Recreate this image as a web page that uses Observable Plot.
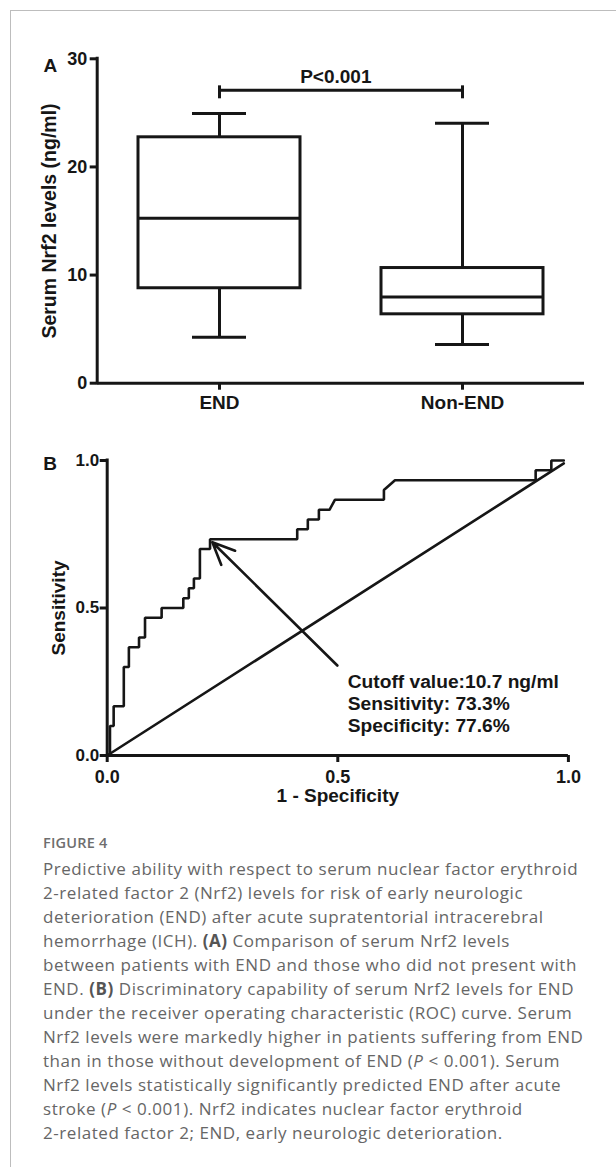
<!DOCTYPE html>
<html>
<head>
<meta charset="utf-8">
<script src="https://cdn.jsdelivr.net/npm/d3@7"></script>
<script src="https://cdn.jsdelivr.net/npm/@observablehq/plot@0.6"></script>
<style>
  html, body { margin: 0; padding: 0; background: #fff; }
  body { width: 616px; height: 1167px; position: relative; overflow: hidden; }
  #frame { position: absolute; left: 10px; top: 10px; width: 620px; height: 1170px;
           border-left: 1px solid #bdbdbd; border-top: 1px solid #bdbdbd; }
  #panelA { position: absolute; left: 0; top: 0; }
  #panelB { position: absolute; left: 0; top: 420px; }
  #figlabel { position: absolute; left: 43px; top: 833px; font-family: "Open Sans", sans-serif;
              font-weight: 600; font-size: 14.5px; line-height: 20px; color: #6e6e6e; letter-spacing: 0.2px; }
  #caption { position: absolute; left: 43px; top: 857px; font-family: "Open Sans", sans-serif;
             font-size: 17px; line-height: 24px; color: #666; white-space: nowrap; letter-spacing: 0.55px; }
  #caption b { font-weight: 700; color: #555; }
</style>
</head>
<body>
<div id="frame"></div>
<div id="panelA"></div>
<div id="panelB"></div>
<div id="figlabel">FIGURE 4</div>
<div id="caption"></div>
<script>
// ---------- Panel A data (box plot, ng/ml) ----------
const groups = ["END", "Non-END"];
const whiskerLow = [4.26, 3.58];
const quartile1 = [8.78, 6.37];
const medianVal = [15.26, 7.97];
const quartile3 = [22.74, 10.65];
const whiskerHigh = [24.93, 24.05];
const yTicksA = [0, 10, 20, 30];
const yTitleA = "Serum Nrf2 levels (ng/ml)";
const pLabel = "P<0.001";
const bracketLevel = [27.1];
const bracketTickSpan = [26.3, 27.5];

// ---------- Panel B data (ROC curve) ----------
const rocFpr = [0, 0.006, 0.006, 0.014, 0.014, 0.036, 0.036, 0.047, 0.047, 0.069, 0.069,
  0.082, 0.082, 0.118, 0.118, 0.165, 0.165, 0.177, 0.177, 0.188, 0.188, 0.201, 0.201,
  0.223, 0.223, 0.412, 0.412, 0.435, 0.435, 0.459, 0.459, 0.482, 0.494, 0.600, 0.600,
  0.624, 0.929, 0.929, 0.963, 0.963, 0.99];
const rocTpr = [0, 0, 0.1, 0.1, 0.167, 0.167, 0.3, 0.3, 0.367, 0.367, 0.4,
  0.4, 0.467, 0.467, 0.5, 0.5, 0.533, 0.533, 0.567, 0.567, 0.6, 0.6, 0.7,
  0.7, 0.733, 0.733, 0.767, 0.767, 0.8, 0.8, 0.833, 0.833, 0.867, 0.867, 0.9,
  0.933, 0.933, 0.967, 0.967, 1.0, 1.0];
const refX = [0, 0.99];
const refY = [0, 0.99];
const ticksB = [0, 0.5, 1];
const xTitleB = "1 - Specificity";
const yTitleB = "Sensitivity";
const arrowFrom = [0.499, 0.305];
const arrowTo = [0.228, 0.723];
const annotationLines = ["Cutoff value:10.7 ng/ml", "Sensitivity: 73.3%", "Specificity: 77.6%"];
const annotationAt = [0.5215, 0.178];

// ---------- Caption ----------
const captionLines = [
  "Predictive ability with respect to serum nuclear factor erythroid",
  "2-related factor 2 (Nrf2) levels for risk of early neurologic",
  "deterioration (END) after acute supratentorial intracerebral",
  "hemorrhage (ICH). <b>(A)</b> Comparison of serum Nrf2 levels",
  "between patients with END and those who did not present with",
  "END. <b>(B)</b> Discriminatory capability of serum Nrf2 levels for END",
  "under the receiver operating characteristic (ROC) curve. Serum",
  "Nrf2 levels were markedly higher in patients suffering from END",
  "than in those without development of END (<i>P</i> &lt; 0.001). Serum",
  "Nrf2 levels statistically significantly predicted END after acute",
  "stroke (<i>P</i> &lt; 0.001). Nrf2 indicates nuclear factor erythroid",
  "2-related factor 2; END, early neurologic deterioration."
];

const ink = "#161616";
const font = "'Liberation Sans', Arial, Helvetica, sans-serif";

const boxData = groups.map((g, i) => ({
  group: g, lo: whiskerLow[i], q1: quartile1[i], med: medianVal[i], q3: quartile3[i], hi: whiskerHigh[i]
}));

const mLeftA = 96.7, mRightA = 32;
const chartA = Plot.plot({
  width: 616, height: 420,
  marginLeft: mLeftA, marginRight: mRightA, marginTop: 58.3, marginBottom: 37.3,
  style: { fontFamily: font, fontWeight: "bold", fontSize: "18px", color: ink, background: "transparent", overflow: "visible" },
  x: { type: "band", domain: groups, paddingInner: 0.335, paddingOuter: 0.168, label: null },
  y: { domain: [yTicksA[0], yTicksA[yTicksA.length - 1]], label: null },
  marks: [
    Plot.axisY({ ticks: yTicksA, tickSize: 7, tickPadding: 3, strokeWidth: 3, fontSize: 18, fontWeight: "bold", label: null }),
    Plot.axisX({ tickSize: 7, tickPadding: 5, strokeWidth: 3, fontSize: 19, fontWeight: "bold", label: null }),
    Plot.ruleY([yTicksA[0]], { stroke: ink, strokeWidth: 3 }),
    Plot.ruleX([0], { x: null, y1: () => yTicksA[0], y2: () => yTicksA[yTicksA.length - 1],
      dx: mLeftA - (mLeftA + 616 - mRightA) / 2, stroke: ink, strokeWidth: 3, strokeLinecap: "square" }),
    // whiskers
    Plot.ruleX(boxData, { x: "group", y1: "lo", y2: "q1", stroke: ink, strokeWidth: 3 }),
    Plot.ruleX(boxData, { x: "group", y1: "q3", y2: "hi", stroke: ink, strokeWidth: 3 }),
    Plot.tickY(boxData, { x: "group", y: "lo", insetLeft: 54, insetRight: 54, stroke: ink, strokeWidth: 3 }),
    Plot.tickY(boxData, { x: "group", y: "hi", insetLeft: 54, insetRight: 54, stroke: ink, strokeWidth: 3 }),
    // boxes
    Plot.barY(boxData, { x: "group", y1: "q1", y2: "q3", fill: "white", stroke: ink, strokeWidth: 3 }),
    Plot.tickY(boxData, { x: "group", y: "med", stroke: ink, strokeWidth: 3 }),
    // significance bracket
    Plot.link(bracketLevel, { x1: () => groups[0], x2: () => groups[1], y1: d => d, y2: d => d, stroke: ink, strokeWidth: 3 }),
    Plot.ruleX(groups, { x: d => d, y1: () => bracketTickSpan[0], y2: () => bracketTickSpan[1], stroke: ink, strokeWidth: 3 }),
    Plot.text([pLabel], { y: () => bracketLevel[0], frameAnchor: "middle", dx: -5, dy: -13, text: d => d,
      fontSize: 19, fontWeight: "bold", fill: ink }),
    // labels
    Plot.text([yTitleA], { frameAnchor: "left", textAnchor: "middle", rotate: -90, dx: -47.7, text: d => d,
      fontSize: 19.5, fontWeight: "bold", fill: ink }),
    Plot.text(["A"], { frameAnchor: "top-left", textAnchor: "start", dx: -53.7, dy: 0, text: d => d,
      fontSize: 19, fontWeight: "bold", fill: ink })
  ]
});
document.getElementById("panelA").appendChild(chartA);

const rocData = rocFpr.map((x, i) => ({ x, y: rocTpr[i] }));
const refData = refX.map((x, i) => ({ x, y: refY[i] }));

const chartB = Plot.plot({
  width: 616, height: 410,
  marginLeft: 106.7, marginRight: 48.1, marginTop: 40, marginBottom: 75,
  style: { fontFamily: font, fontWeight: "bold", fontSize: "17px", color: ink, background: "transparent", overflow: "visible" },
  x: { domain: [0, 1], label: null },
  y: { domain: [0, 1], label: null },
  marks: [
    Plot.axisY({ ticks: ticksB, tickFormat: d3.format(".1f"), tickSize: 7, tickPadding: 1, strokeWidth: 3, fontSize: 17, fontWeight: "bold", label: null }),
    Plot.axisX({ ticks: ticksB, tickFormat: d3.format(".1f"), tickSize: 7, tickPadding: 7.3, strokeWidth: 3, fontSize: 18, fontWeight: "bold", label: null }),
    Plot.line(refData, { x: "x", y: "y", stroke: ink, strokeWidth: 2.6 }),
    Plot.line(rocData, { x: "x", y: "y", stroke: ink, strokeWidth: 2.6, strokeLinejoin: "miter" }),
    Plot.ruleX([0], { y1: () => 0, y2: () => 1, stroke: ink, strokeWidth: 3, strokeLinecap: "square" }),
    Plot.ruleY([0], { stroke: ink, strokeWidth: 3 }),
    Plot.arrow([0], { x1: () => arrowFrom[0], y1: () => arrowFrom[1], x2: () => arrowTo[0], y2: () => arrowTo[1],
      stroke: ink, strokeWidth: 2.6, headLength: 14, headAngle: 48 }),
    Plot.text([annotationLines.join("\n")], { x: () => annotationAt[0], y: () => annotationAt[1], text: d => d,
      textAnchor: "start", lineAnchor: "middle", lineHeight: 1.13, fontSize: 19.2, fontWeight: "bold", fill: ink }),
    Plot.text([xTitleB], { frameAnchor: "bottom", textAnchor: "middle", dy: 46.7, text: d => d, fontSize: 19, fontWeight: "bold", fill: ink }),
    Plot.text([yTitleB], { frameAnchor: "left", textAnchor: "middle", rotate: -90, dx: -48.7, text: d => d, fontSize: 19, fontWeight: "bold", fill: ink }),
    Plot.text(["B"], { frameAnchor: "top-left", textAnchor: "start", dx: -64, dy: -4, text: d => d, fontSize: 19, fontWeight: "bold", fill: ink })
  ]
});
document.getElementById("panelB").appendChild(chartB);

document.getElementById("caption").innerHTML = captionLines.map(l => `<div>${l}</div>`).join("");
</script>
</body>
</html>
